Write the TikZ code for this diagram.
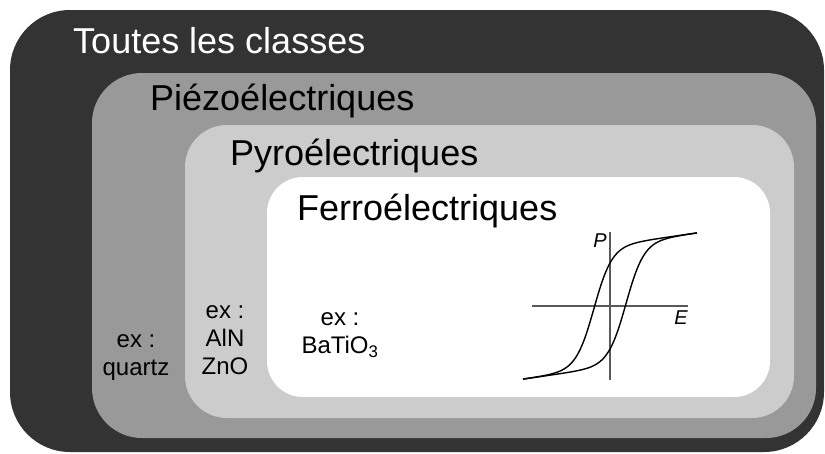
\documentclass[tikz,border=0pt]{standalone}
\usepackage{fontspec}
\setmainfont{Liberation Sans}
\begin{document}
\begin{tikzpicture}[x=1pt,y=-1pt,
  title/.style={anchor=base west, inner sep=0pt, font=\fontsize{36}{42}\selectfont},
  example/.style={align=center, inner sep=0pt, font=\fontsize{24}{28}\selectfont},
  axis/.style={draw=black!65, line width=1.5pt},
  loop/.style={draw=black, line width=1.4pt}]
\useasboundingbox (0,0) rectangle (825,453);
\fill[white] (0,0) rectangle (825,453);
\fill[black!80, rounded corners=60pt] (10,10) rectangle (824,452);
\fill[black!40, rounded corners=50pt] (92,73) rectangle (816,438);
\fill[black!20, rounded corners=42pt] (185,125) rectangle (794,418);
\fill[white, rounded corners=36pt] (267,177) rectangle (770,397);
\node[title, text=white] (t1) at (73,53) {Toutes les classes};
\node[title] (t2) at (150,110) {Piézoélectriques};
\node[title] (t3) at (230,165) {Pyroélectriques};
\node[title] (t4) at (297,220) {Ferroélectriques};
\node[example] (e1) at (136,358) {ex :\\quartz};
\node[example] (e2) at (225,340) {ex :\\AlN\\ZnO};
\node[example] (e3) at (340,335) {ex :\\BaTiO\textsubscript{3}};
\coordinate (hl) at (532,306);
\coordinate (hr) at (688,306);
\coordinate (vt) at (610,232);
\coordinate (vb) at (610,380);
\draw[axis] (hl) -- (hr);
\draw[axis] (vt) -- (vb);
\node[inner sep=0pt, font=\fontsize{20}{24}\selectfont\itshape] (P) at (600,241) {P};
\node[inner sep=0pt, font=\fontsize{20}{24}\selectfont\itshape] (E) at (681,318) {E};
\draw[loop] plot[domain=-87:87, samples=120, smooth] ({610+\x},{306-(60.5*tanh((\x+16)/18)+0.145*\x)});
\draw[loop] plot[domain=-87:87, samples=120, smooth] ({610+\x},{306-(60.5*tanh((\x-16)/18)+0.145*\x)});
\end{tikzpicture}
\end{document}
